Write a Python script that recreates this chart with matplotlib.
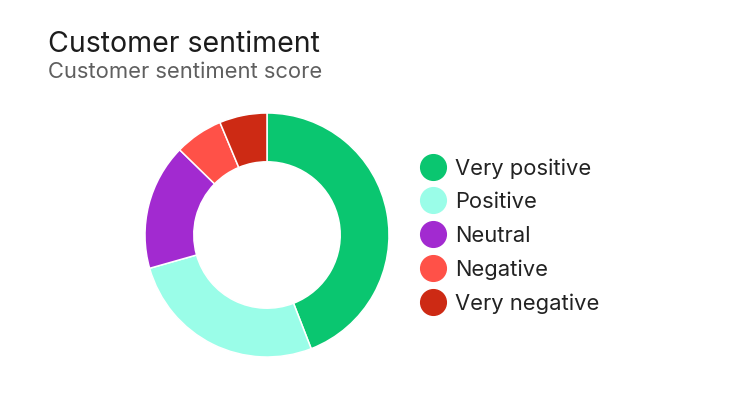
import matplotlib.pyplot as plt
from matplotlib.lines import Line2D

# datos del gráfico
labels = ["Very positive", "Positive", "Neutral", "Negative", "Very negative"]
values = [44.1, 26.5, 16.7, 6.4, 6.3]
colors = ["#0AC670", "#9AFDE8", "#A22AD0", "#FF5148", "#CD2A14"]

title = "Customer sentiment"
subtitle = "Customer sentiment score"

plt.rcParams['font.family'] = ['Inter', 'DejaVu Sans']

fig = plt.figure(figsize=(7.44, 3.96), dpi=100)
fig.patch.set_facecolor("white")

# Título y subtítulo
fig.text(48 / 744, 1 - 52 / 396, title, fontsize=20.5, color="#1c1c1c",
         ha="left", va="baseline")
fig.text(48 / 744, 1 - 78 / 396, subtitle, fontsize=15.8, color="#5f5f5f",
         ha="left", va="baseline")

# Dona
ax = fig.add_axes([(267 - 122) / 744, (396 - 235 - 122) / 396, 244 / 744, 244 / 396])
ax.pie(values, colors=colors, startangle=90, counterclock=False, radius=1,
       wedgeprops=dict(width=0.4, edgecolor="white", linewidth=1.1))
ax.set_xlim(-1, 1)
ax.set_ylim(-1, 1)
ax.set_aspect("equal")
ax.axis("off")

# Leyenda
handles = [Line2D([0], [0], marker="o", linestyle="", markersize=18.5,
                  markerfacecolor=c, markeredgecolor=c) for c in colors]
leg = fig.legend(handles, labels, loc="center left",
                 bbox_to_anchor=(420 / 744, 1 - 236 / 396),
                 frameon=False, fontsize=15.8, labelspacing=0.62,
                 handletextpad=0.4, handlelength=1.2, borderpad=0,
                 borderaxespad=0)
for t in leg.get_texts():
    t.set_color("#222222")

plt.savefig("out.png", dpi=100)
